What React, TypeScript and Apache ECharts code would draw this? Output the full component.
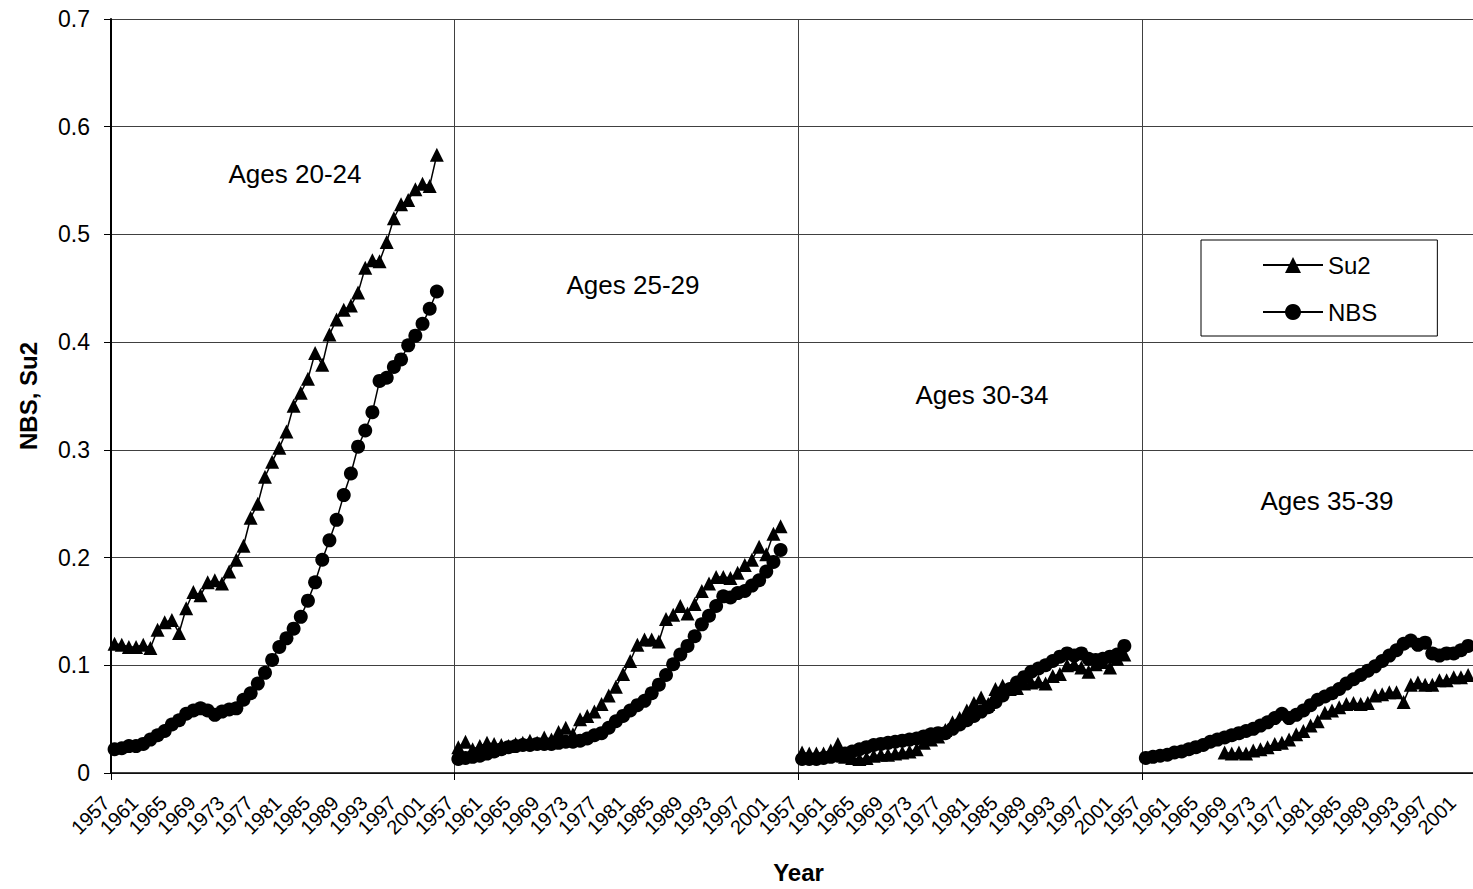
import React, { useEffect, useRef } from 'react';
import * as echarts from 'echarts';

const FONT = "'Liberation Sans', Arial, sans-serif";

const years = [
  1957, 1958, 1959, 1960, 1961, 1962, 1963, 1964, 1965, 1966, 1967, 1968,
  1969, 1970, 1971, 1972, 1973, 1974, 1975, 1976, 1977, 1978, 1979, 1980,
  1981, 1982, 1983, 1984, 1985, 1986, 1987, 1988, 1989, 1990, 1991, 1992,
  1993, 1994, 1995, 1996, 1997, 1998, 1999, 2000, 2001, 2002, 2003, 2004,
];

const panelLabels = ['Ages 20-24', 'Ages 25-29', 'Ages 30-34', 'Ages 35-39'];

const su2_20_24 = [
  0.120, 0.119, 0.117, 0.117, 0.119, 0.116, 0.133, 0.140, 0.142, 0.130, 0.153, 0.168,
  0.165, 0.177, 0.179, 0.176, 0.187, 0.198, 0.211, 0.237, 0.250, 0.275, 0.289, 0.302,
  0.317, 0.341, 0.353, 0.366, 0.390, 0.379, 0.407, 0.421, 0.430, 0.434, 0.446, 0.469,
  0.476, 0.475, 0.493, 0.515, 0.528, 0.532, 0.542, 0.547, 0.545, 0.574, null, null,
];
const nbs_20_24 = [
  0.022, 0.023, 0.025, 0.025, 0.027, 0.031, 0.035, 0.039, 0.045, 0.049, 0.055, 0.058,
  0.060, 0.058, 0.054, 0.057, 0.059, 0.060, 0.068, 0.074, 0.083, 0.093, 0.105, 0.117,
  0.125, 0.134, 0.145, 0.160, 0.177, 0.198, 0.216, 0.235, 0.258, 0.278, 0.303, 0.318,
  0.335, 0.364, 0.367, 0.377, 0.384, 0.397, 0.406, 0.417, 0.431, 0.447, null, null,
];
const su2_25_29 = [
  0.024, 0.029, 0.022, 0.025, 0.028, 0.027, 0.026, 0.025, 0.027, 0.028, 0.030, 0.028,
  0.033, 0.031, 0.038, 0.042, 0.036, 0.050, 0.053, 0.057, 0.064, 0.072, 0.080, 0.092,
  0.104, 0.119, 0.124, 0.124, 0.122, 0.143, 0.147, 0.155, 0.148, 0.157, 0.169, 0.176,
  0.182, 0.182, 0.181, 0.186, 0.193, 0.198, 0.210, 0.203, 0.222, 0.229, null, null,
];
const nbs_25_29 = [
  0.013, 0.014, 0.015, 0.016, 0.018, 0.020, 0.022, 0.024, 0.025, 0.026, 0.026, 0.027,
  0.027, 0.027, 0.028, 0.029, 0.029, 0.030, 0.032, 0.035, 0.037, 0.042, 0.048, 0.053,
  0.058, 0.063, 0.067, 0.074, 0.082, 0.091, 0.101, 0.110, 0.118, 0.127, 0.138, 0.146,
  0.155, 0.164, 0.163, 0.167, 0.169, 0.174, 0.179, 0.187, 0.196, 0.207, null, null,
];
const su2_30_34 = [
  0.019, 0.018, 0.018, 0.018, 0.021, 0.027, 0.015, 0.014, 0.013, 0.014, 0.016, 0.017,
  0.017, 0.018, 0.019, 0.020, 0.022, 0.028, 0.031, 0.034, 0.040, 0.047, 0.051, 0.058,
  0.065, 0.070, 0.064, 0.078, 0.081, 0.078, 0.079, 0.083, 0.084, 0.085, 0.083, 0.090,
  0.092, 0.100, 0.101, 0.098, 0.094, 0.101, 0.103, 0.098, 0.106, 0.110, null, null,
];
const nbs_30_34 = [
  0.013, 0.013, 0.013, 0.014, 0.015, 0.016, 0.018, 0.020, 0.022, 0.024, 0.026, 0.027,
  0.028, 0.029, 0.030, 0.031, 0.032, 0.034, 0.036, 0.037, 0.037, 0.041, 0.045, 0.049,
  0.053, 0.057, 0.061, 0.066, 0.072, 0.078, 0.084, 0.089, 0.094, 0.097, 0.100, 0.104,
  0.108, 0.111, 0.109, 0.111, 0.106, 0.105, 0.106, 0.108, 0.110, 0.118, null, null,
];
const su2_35_39 = [
  null, null, null, null, null, null, null, null, null, null, null, 0.019,
  0.018, 0.019, 0.018, 0.021, 0.022, 0.024, 0.027, 0.028, 0.031, 0.036, 0.039, 0.044,
  0.048, 0.056, 0.058, 0.061, 0.064, 0.065, 0.064, 0.065, 0.072, 0.073, 0.075, 0.075,
  0.066, 0.082, 0.084, 0.082, 0.082, 0.086, 0.086, 0.089, 0.089, 0.091, null, null,
];
const nbs_35_39 = [
  0.014, 0.015, 0.016, 0.017, 0.019, 0.020, 0.022, 0.024, 0.026, 0.029, 0.031, 0.033,
  0.035, 0.037, 0.039, 0.041, 0.044, 0.047, 0.051, 0.055, 0.051, 0.054, 0.058, 0.063,
  0.068, 0.071, 0.074, 0.078, 0.083, 0.087, 0.091, 0.095, 0.099, 0.104, 0.109, 0.114,
  0.120, 0.123, 0.119, 0.121, 0.111, 0.109, 0.111, 0.111, 0.114, 0.118, null, null,
];

const su2Panels = [su2_20_24, su2_25_29, su2_30_34, su2_35_39];
const nbsPanels = [nbs_20_24, nbs_25_29, nbs_30_34, nbs_35_39];

const categories: string[] = [];
panelLabels.forEach(() => years.forEach((y) => categories.push(String(y))));
const su2Data = su2Panels.flat();
const nbsData = nbsPanels.flat();
const perPanel = years.length;

export default function App() {
  const ref = useRef<HTMLDivElement>(null);
  useEffect(() => {
    if (!ref.current) return;
    const chart = echarts.init(ref.current, undefined, { renderer: 'svg' });
    const annPos = [
      [295, 174],
      [633, 285],
      [982, 395],
      [1327, 501],
    ];
    chart.setOption({
      animation: false,
      backgroundColor: '#fff',
      grid: { left: 111, top: 19, width: 1375, height: 756, containLabel: false },
      legend: {
        data: ['Su2', 'NBS'],
        orient: 'vertical',
        left: 1201,
        top: 240,
        padding: [13, 60, 12, 61],
        itemWidth: 60,
        itemHeight: 20,
        itemGap: 23,
        borderColor: '#000',
        borderWidth: 1,
        backgroundColor: '#fff',
        textStyle: { fontSize: 24, color: '#000', fontFamily: FONT, lineHeight: 24 },
      },
      xAxis: {
        type: 'category',
        data: categories,
        boundaryGap: true,
        name: 'Year',
        nameLocation: 'middle',
        nameGap: 87,
        nameTextStyle: { fontSize: 24, fontWeight: 'bold', color: '#000', fontFamily: FONT },
        axisLine: { lineStyle: { color: '#000', width: 1.5 } },
        axisTick: {
          show: true,
          length: 7,
          interval: (i: number) => i % perPanel === 0,
          lineStyle: { color: '#000' },
        },
        axisLabel: {
          interval: 3,
          rotate: 45,
          margin: 18,
          padding: [0, 12, 0, 0],
          fontSize: 20,
          color: '#000',
          fontFamily: FONT,
        },
        splitLine: {
          show: true,
          interval: (i: number) => i % perPanel === 0,
          lineStyle: { color: '#404040', width: 1 },
        },
      },
      yAxis: {
        type: 'value',
        min: 0,
        max: 0.7,
        interval: 0.1,
        name: 'NBS, Su2',
        nameLocation: 'middle',
        nameGap: 71,
        nameTextStyle: { fontSize: 24, fontWeight: 'bold', color: '#000', fontFamily: FONT },
        axisLine: { show: true, lineStyle: { color: '#000', width: 2 } },
        axisTick: { show: true, length: 7, lineStyle: { color: '#000' } },
        axisLabel: {
          margin: 21,
          fontSize: 23,
          color: '#000',
          fontFamily: FONT,
          formatter: (v: number) => String(+v.toFixed(1)),
        },
        splitLine: { show: true, lineStyle: { color: '#404040', width: 1 } },
      },
      series: [
        {
          name: 'Su2',
          type: 'line',
          data: su2Data,
          symbol: 'triangle',
          symbolSize: 14,
          showAllSymbol: true,
          connectNulls: false,
          itemStyle: { color: '#000' },
          lineStyle: { color: '#000', width: 1.5 },
          emphasis: { disabled: true },
        },
        {
          name: 'NBS',
          type: 'line',
          data: nbsData,
          symbol: 'circle',
          symbolSize: 14,
          showAllSymbol: true,
          connectNulls: false,
          itemStyle: { color: '#000' },
          lineStyle: { color: '#000', width: 1.5 },
          emphasis: { disabled: true },
        },
      ],
      graphic: panelLabels.map((t, i) => ({
        type: 'text',
        x: annPos[i][0],
        y: annPos[i][1],
        style: {
          text: t,
          fontSize: 26,
          fontFamily: FONT,
          fill: '#000',
          align: 'center',
          verticalAlign: 'middle',
        },
      })),
    });
    return () => chart.dispose();
  }, []);
  return (
    <div
      style={{
        position: 'absolute',
        left: 0,
        top: 0,
        width: 1473,
        height: 889,
        overflow: 'hidden',
        background: '#fff',
      }}
    >
      <div ref={ref} style={{ width: 1500, height: 889 }} />
    </div>
  );
}
